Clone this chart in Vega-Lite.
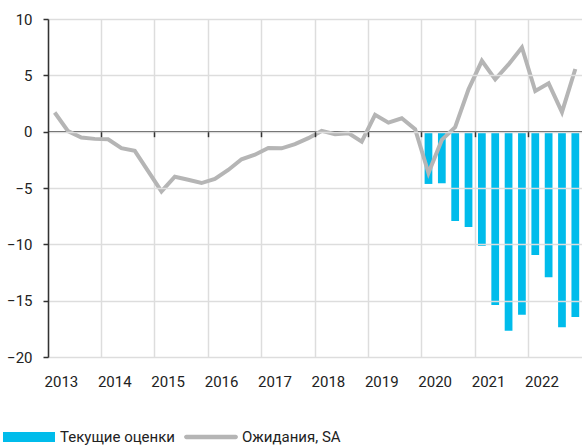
{
  "$schema": "https://vega.github.io/schema/vega-lite/v6.json",
  "autosize": {"type": "none"},
  "padding": {"left": 48, "top": 19, "right": 0, "bottom": 88},
  "width": 534,
  "height": 338,
  "background": "white",
  "config": {
    "view": {"stroke": null},
    "font": "Roboto",
    "axis": {"labelFont": "Roboto", "labelFontSize": 15, "labelColor": "#222222", "gridColor": "#dddddd", "gridWidth": 1.5},
    "legend": {"labelFont": "Roboto", "labelFontSize": 15, "labelColor": "#222222"}
  },
  "data": {"values": [
    {"period": "2013Q1", "exp": 1.7, "cur": null},
    {"period": "2013Q2", "exp": 0.05, "cur": null},
    {"period": "2013Q3", "exp": -0.52, "cur": null},
    {"period": "2013Q4", "exp": -0.64, "cur": null},
    {"period": "2014Q1", "exp": -0.67, "cur": null},
    {"period": "2014Q2", "exp": -1.46, "cur": null},
    {"period": "2014Q3", "exp": -1.7, "cur": null},
    {"period": "2014Q4", "exp": -3.5, "cur": null},
    {"period": "2015Q1", "exp": -5.3, "cur": null},
    {"period": "2015Q2", "exp": -4.0, "cur": null},
    {"period": "2015Q3", "exp": -4.27, "cur": null},
    {"period": "2015Q4", "exp": -4.56, "cur": null},
    {"period": "2016Q1", "exp": -4.2, "cur": null},
    {"period": "2016Q2", "exp": -3.4, "cur": null},
    {"period": "2016Q3", "exp": -2.45, "cur": null},
    {"period": "2016Q4", "exp": -2.05, "cur": null},
    {"period": "2017Q1", "exp": -1.45, "cur": null},
    {"period": "2017Q2", "exp": -1.48, "cur": null},
    {"period": "2017Q3", "exp": -1.1, "cur": null},
    {"period": "2017Q4", "exp": -0.58, "cur": null},
    {"period": "2018Q1", "exp": 0.07, "cur": null},
    {"period": "2018Q2", "exp": -0.22, "cur": null},
    {"period": "2018Q3", "exp": -0.13, "cur": null},
    {"period": "2018Q4", "exp": -0.88, "cur": null},
    {"period": "2019Q1", "exp": 1.49, "cur": null},
    {"period": "2019Q2", "exp": 0.8, "cur": null},
    {"period": "2019Q3", "exp": 1.19, "cur": null},
    {"period": "2019Q4", "exp": 0.22, "cur": null},
    {"period": "2020Q1", "exp": -3.67, "cur": -4.64},
    {"period": "2020Q2", "exp": -0.73, "cur": -4.58},
    {"period": "2020Q3", "exp": 0.4, "cur": -7.92},
    {"period": "2020Q4", "exp": 3.76, "cur": -8.46},
    {"period": "2021Q1", "exp": 6.29, "cur": -10.14},
    {"period": "2021Q2", "exp": 4.64, "cur": -15.38},
    {"period": "2021Q3", "exp": 5.97, "cur": -17.66},
    {"period": "2021Q4", "exp": 7.48, "cur": -16.24},
    {"period": "2022Q1", "exp": 3.61, "cur": -10.94},
    {"period": "2022Q2", "exp": 4.29, "cur": -12.92},
    {"period": "2022Q3", "exp": 1.73, "cur": -17.36},
    {"period": "2022Q4", "exp": 5.56, "cur": -16.44}
  ]},
  "resolve": {"axis": {"x": "independent"}},
  "layer": [
    {
      "mark": {"type": "bar", "color": "#00BCEB"},
      "encoding": {
        "x": {"field": "period", "type": "ordinal", "sort": "ascending",
          "scale": {"paddingInner": 0.42},
          "axis": {"orient": "bottom", "title": null, "bandPosition": -0.362, "labelOffset": 6.7, "values": ["2013Q1","2014Q1","2015Q1","2016Q1","2017Q1","2018Q1","2019Q1","2020Q1","2021Q1","2022Q1"],
            "labelExpr": "datum.value ? substring(datum.value, 0, 4) : ''", "labelAngle": 0, "domain": false, "ticks": false, "tickSize": 0, "labelPadding": 17, "labelOverlap": false, "grid": true, "zindex": 0}},
        "y": {"field": "cur", "type": "quantitative",
          "scale": {"domain": [-20, 10], "nice": false},
          "axis": {"title": null, "values": [-20, -15, -10, -5, 0, 5, 10], "grid": true, "domainColor": "#333333", "domainWidth": 1.5, "tickColor": "#333333", "tickWidth": 1.5, "tickSize": 5, "labelPadding": 11, "zindex": 1}},
        "color": {"datum": "Текущие оценки", "type": "nominal",
          "scale": {"domain": ["Текущие оценки", "Ожидания, SA"], "range": ["#00BCEB", "#B5B5B5"]},
          "legend": {"title": null, "orient": "none", "direction": "horizontal", "legendX": -45, "legendY": 392, "padding": 0,
            "symbolType": "M-1,-0.19L1,-0.19L1,0.19L-1,0.19Z", "symbolSize": 2704, "symbolStrokeWidth": 0, "labelOffset": 5, "columnPadding": 9,
            "encode": {"symbols": {"update": {"shape": {"signal": "datum.label === 'Ожидания, SA' ? 'M-0.95,-0.085L0.95,-0.085A0.085,0.085,0,0,1,0.95,0.085L-0.95,0.085A0.085,0.085,0,0,1,-0.95,-0.085Z' : 'M-1,-0.19L1,-0.19L1,0.19L-1,0.19Z'"}, "fillOpacity": {"value": 1}}}}}}
      }
    },
    {
      "mark": {"type": "rule", "color": "#555555", "strokeWidth": 1.5},
      "encoding": {"y": {"datum": 0, "type": "quantitative"}}
    },
    {
      "mark": {"type": "line", "color": "#B5B5B5", "strokeWidth": 4, "strokeJoin": "miter"},
      "encoding": {
        "x": {"field": "period", "type": "ordinal", "sort": "ascending",
          "axis": {"orient": "bottom", "title": null, "bandPosition": -0.362, "values": ["2014Q1","2015Q1","2016Q1","2017Q1","2018Q1","2019Q1","2020Q1","2021Q1","2022Q1"],
            "labels": false, "grid": false, "domain": false, "ticks": true, "tickColor": "#333333", "tickWidth": 1.5, "tickSize": 5, "offset": -225.3, "zindex": 1}},
        "y": {"field": "exp", "type": "quantitative"},
        "color": {"datum": "Ожидания, SA", "type": "nominal"}
      }
    }
  ]
}
